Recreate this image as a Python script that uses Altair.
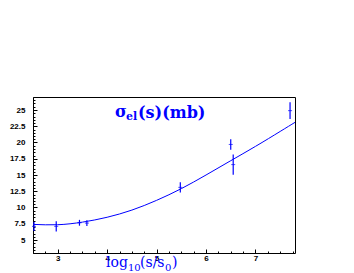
import altair as alt
import pandas as pd

# measured points: log10(s/s0), sigma_el (mb), error
LOG_S = [2.52, 2.97, 3.44, 3.59, 5.48, 6.50, 6.55, 7.70]
SIGMA = [7.1, 7.1, 7.65, 7.6, 13.1, 19.7, 16.6, 24.9]
ERR = [0.7, 0.8, 0.45, 0.45, 0.8, 0.8, 1.55, 1.3]

# fitted curve
FIT_X = [2.5, 3.0, 3.5, 4.0, 4.5, 5.0, 5.5, 6.0, 6.5, 7.0, 7.5, 7.8]
FIT_Y = [7.4, 7.35, 7.75, 8.5, 9.6, 11.1, 12.9, 15.0, 17.2, 19.4, 21.7, 23.1]

X_MAJOR = [3, 4, 5, 6, 7]
X_MINOR = [2.5 + 0.25 * i for i in range(22)]
Y_MAJOR = [5, 7.5, 10, 12.5, 15, 17.5, 20, 22.5, 25]
Y_MINOR = [3 + 0.5 * i for i in range(49)]

TITLE_PARTS = ["σ", "el", "(s)(mb)"]
XTITLE_PARTS = ["log", "10", "(s/s", "0", ")"]

BLUE = "#0000ff"
W, H = 262, 156

pts = pd.DataFrame({"x": LOG_S, "y": SIGMA, "err": ERR})
pts["lo"] = pts["y"] - pts["err"]
pts["hi"] = pts["y"] + pts["err"]
fit = pd.DataFrame({"x": FIT_X, "y": FIT_Y})

xs = alt.Scale(domain=[2.5, 7.8], nice=False, zero=False)
ys = alt.Scale(domain=[3, 27], nice=False, zero=False)

lab = dict(labelFont="Liberation Sans", labelFontWeight="bold", labelFontSize=8,
           labelColor="black", domain=False, grid=False, title=None,
           tickColor="black", tickWidth=1)

x_major = alt.Axis(orient="bottom", values=X_MAJOR, tickSize=4, offset=-4,
                   labelPadding=1, labelBaseline="top", format="d", **lab)
y_major = alt.Axis(orient="left", values=Y_MAJOR, tickSize=4, offset=-4,
                   labelPadding=8, format=".1~f", **lab)
x_minor = alt.Axis(orient="bottom", values=X_MINOR, tickSize=2, offset=-2,
                   labels=False, domain=False, grid=False, title=None,
                   tickColor="black", tickWidth=1)
y_minor = alt.Axis(orient="left", values=Y_MINOR, tickSize=2, offset=-2,
                   labels=False, domain=False, grid=False, title=None,
                   tickColor="black", tickWidth=1)

curve = alt.Chart(fit).mark_line(color=BLUE, strokeWidth=1, interpolate="natural").encode(
    x=alt.X("x:Q", scale=xs, axis=x_major),
    y=alt.Y("y:Q", scale=ys, axis=y_major),
)

bars = alt.Chart(pts).mark_rule(color=BLUE, strokeWidth=1.2).encode(
    x=alt.X("x:Q", scale=xs, axis=x_minor),
    y=alt.Y("lo:Q", scale=ys, axis=y_minor),
    y2="hi:Q",
)

centers = alt.Chart(pts).mark_tick(color=BLUE, thickness=1, size=4, orient="horizontal").encode(
    x=alt.X("x:Q", scale=xs, axis=None),
    y=alt.Y("y:Q", scale=ys, axis=None),
)

def txt(s, x, y, size, weight="bold", font="DejaVu Serif"):
    return alt.Chart(pts).mark_text(
        text=s, font=font, fontSize=size, fontWeight=weight, color=BLUE,
        align="left", baseline="alphabetic"
    ).encode(x=alt.value(x), y=alt.value(y)).transform_filter("datum.x < 2.6")

title_layers = [
    txt(TITLE_PARTS[0], 82, 19.5, 16),
    txt(TITLE_PARTS[1], 93, 23, 11),
    txt(TITLE_PARTS[2], 105, 20.5, 16),
    txt(XTITLE_PARTS[0], 73, 170, 14, "normal"),
    txt(XTITLE_PARTS[1], 95, 173.5, 10, "normal"),
    txt(XTITLE_PARTS[2], 107, 170, 14, "normal"),
    txt(XTITLE_PARTS[3], 132, 173.5, 10, "normal"),
    txt(XTITLE_PARTS[4], 139, 170, 14, "normal"),
]

chart = alt.layer(curve, bars, centers, *title_layers).resolve_axis(
    x="independent", y="independent"
).properties(
    width=W, height=H,
    autosize=alt.AutoSizeParams(type="none"),
    padding={"left": 25, "top": 89, "right": 40, "bottom": 20},
    background="white",
).configure_view(stroke="black", strokeWidth=1)

chart.save("out.html", embed_options={"renderer": "svg", "actions": False})
